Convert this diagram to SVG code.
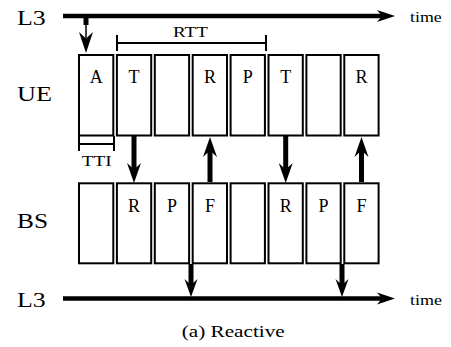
<svg xmlns="http://www.w3.org/2000/svg" width="451" height="347" viewBox="0 0 451 347">
<defs>
<style>
text{font-family:"Liberation Serif",serif !important}
.box{fill:#fff;stroke:#000;stroke-width:2}
.tl{stroke:#000;stroke-width:4.5;fill:none}
.st{stroke:#000;stroke-width:5;fill:none}
.br{stroke:#000;stroke-width:2;fill:none}
.hd{fill:#000;stroke:none}
</style>
</defs>
<rect width="451" height="347" fill="#fff"/>
<g id="labels">
<text font-family="Liberation Serif" font-size="20" x="17" y="25" textLength="28.7" lengthAdjust="spacingAndGlyphs">L3</text>
<text font-family="Liberation Serif" font-size="20" x="17" y="100.7" textLength="35" lengthAdjust="spacingAndGlyphs">UE</text>
<text font-family="Liberation Serif" font-size="20" x="17" y="228.3" textLength="31" lengthAdjust="spacingAndGlyphs">BS</text>
<text font-family="Liberation Serif" font-size="20" x="17" y="306.7" textLength="28.7" lengthAdjust="spacingAndGlyphs">L3</text>
<text font-family="Liberation Serif" font-size="15" x="410" y="21.7" textLength="31.7" lengthAdjust="spacingAndGlyphs">time</text>
<text font-family="Liberation Serif" font-size="15" x="410" y="305" textLength="32" lengthAdjust="spacingAndGlyphs">time</text>
<text font-family="Liberation Serif" font-size="15" x="173" y="36.7" textLength="35" lengthAdjust="spacingAndGlyphs">RTT</text>
<text font-family="Liberation Serif" font-size="15" x="81.7" y="165.5" textLength="30" lengthAdjust="spacingAndGlyphs">TTI</text>
<text font-family="Liberation Serif" font-size="17" x="181.7" y="336.7" textLength="103" lengthAdjust="spacingAndGlyphs">(a) Reactive</text>
</g>
<g id="ue">
<rect class="box" x="79" y="55" width="34.3" height="80.5"/>
<rect class="box" x="116.9" y="55" width="34.3" height="80.5"/>
<rect class="box" x="154.8" y="55" width="34.3" height="80.5"/>
<rect class="box" x="192.7" y="55" width="34.3" height="80.5"/>
<rect class="box" x="230.6" y="55" width="34.3" height="80.5"/>
<rect class="box" x="268.5" y="55" width="34.3" height="80.5"/>
<rect class="box" x="306.4" y="55" width="34.3" height="80.5"/>
<rect class="box" x="344.3" y="55" width="34.3" height="80.5"/>
<text font-family="Liberation Serif" font-size="18" text-anchor="middle" x="96.2" y="83.3">A</text>
<text font-family="Liberation Serif" font-size="18" text-anchor="middle" x="134.1" y="83.3">T</text>
<text font-family="Liberation Serif" font-size="18" text-anchor="middle" x="209.9" y="83.3">R</text>
<text font-family="Liberation Serif" font-size="18" text-anchor="middle" x="247.8" y="83.3">P</text>
<text font-family="Liberation Serif" font-size="18" text-anchor="middle" x="285.7" y="83.3">T</text>
<text font-family="Liberation Serif" font-size="18" text-anchor="middle" x="361.5" y="83.3">R</text>
</g>
<g id="bs">
<rect class="box" x="79" y="183.3" width="34.3" height="80"/>
<rect class="box" x="116.9" y="183.3" width="34.3" height="80"/>
<rect class="box" x="154.8" y="183.3" width="34.3" height="80"/>
<rect class="box" x="192.7" y="183.3" width="34.3" height="80"/>
<rect class="box" x="230.6" y="183.3" width="34.3" height="80"/>
<rect class="box" x="268.5" y="183.3" width="34.3" height="80"/>
<rect class="box" x="306.4" y="183.3" width="34.3" height="80"/>
<rect class="box" x="344.3" y="183.3" width="34.3" height="80"/>
<text font-family="Liberation Serif" font-size="18" text-anchor="middle" x="134.1" y="212.3">R</text>
<text font-family="Liberation Serif" font-size="18" text-anchor="middle" x="172" y="212.3">P</text>
<text font-family="Liberation Serif" font-size="18" text-anchor="middle" x="209.9" y="212.3">F</text>
<text font-family="Liberation Serif" font-size="18" text-anchor="middle" x="285.7" y="212.3">R</text>
<text font-family="Liberation Serif" font-size="18" text-anchor="middle" x="323.6" y="212.3">P</text>
<text font-family="Liberation Serif" font-size="18" text-anchor="middle" x="361.5" y="212.3">F</text>
</g>
<g id="brackets">
<path class="br" d="M117 43H266M117 35V51M266 35V51"/>
<path class="br" d="M79 144H114M79 136V151M114 136V151"/>
</g>
<g id="connectors">
<path class="tl" d="M63 16H382"/>
<path class="hd" d="M395 16L377 10L382 16L377 22Z"/>
<path class="tl" d="M63 298.5H382"/>
<path class="hd" d="M395 298.5L377 292.5L382 298.5L377 304.5Z"/>
<path class="st" d="M86 18V25"/>
<path class="br" d="M86 25V38" style="stroke-width:1.5"/>
<path class="hd" d="M86 53L79 32L86 38.5L93 32Z"/>
<path class="st" d="M134 136V170"/>
<path class="hd" d="M134 183L127 163L134 169.5L141 163Z"/>
<path class="st" d="M285.7 136V170"/>
<path class="hd" d="M285.7 183L278.7 163L285.7 169.5L292.7 163Z"/>
<path class="st" d="M210 182V150"/>
<path class="hd" d="M210 137L203 157L210 150.5L217 157Z"/>
<path class="st" d="M361.5 182V150"/>
<path class="hd" d="M361.5 137L354.5 157L361.5 150.5L368.5 157Z"/>
<path class="st" d="M191 264V286"/>
<path class="hd" d="M191 297L184.5 279L191 285L197.5 279Z"/>
<path class="st" d="M342 264V286"/>
<path class="hd" d="M342 297L335.5 279L342 285L348.5 279Z"/>
</g>
</svg>
